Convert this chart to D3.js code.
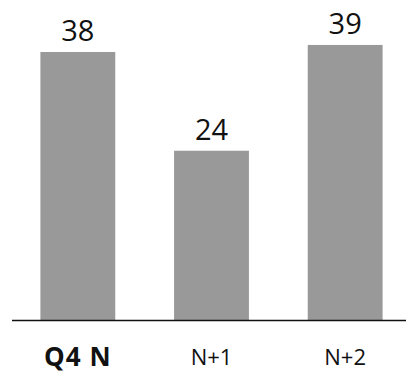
<!DOCTYPE html>
<html>
<head>
<meta charset="utf-8">
<script src="https://cdn.jsdelivr.net/npm/d3@7"></script>
<style>
  html, body { margin: 0; padding: 0; background: #fff; }
  svg { display: block; }
  text { font-family: "Open Sans", "Noto Sans", sans-serif; fill: #111; }
</style>
</head>
<body>
<svg id="chart" width="406" height="373"></svg>
<script>
const categories = ["Q4 N", "N+1", "N+2"];
const values = [38, 24, 39];
const boldCategory = "Q4 N";

const width = 406, height = 373;
const baseY = 320;

const svg = d3.select("#chart");

const x = d3.scaleBand()
  .domain(categories)
  .range([11, 412])
  .paddingInner(0.44)
  .paddingOuter(0.22);

const y = d3.scaleLinear()
  .domain([0, 38])
  .range([baseY, 52]);

svg.selectAll("rect.bar")
  .data(values)
  .join("rect")
  .attr("class", "bar")
  .attr("x", (d, i) => x(categories[i]))
  .attr("width", x.bandwidth())
  .attr("y", d => y(d))
  .attr("height", d => baseY - y(d))
  .attr("fill", "#999999");

svg.selectAll("text.value")
  .data(values)
  .join("text")
  .attr("class", "value")
  .attr("x", (d, i) => x(categories[i]) + x.bandwidth() / 2)
  .attr("y", d => y(d) - 11)
  .attr("text-anchor", "middle")
  .attr("font-size", 29)
  .text(d => d);

// baseline
svg.append("line")
  .attr("x1", 12).attr("x2", width)
  .attr("y1", baseY + 0.5).attr("y2", baseY + 0.5)
  .attr("stroke", "#111")
  .attr("stroke-width", 1.5);

svg.selectAll("text.cat")
  .data(categories)
  .join("text")
  .attr("class", "cat")
  .attr("x", d => x(d) + x.bandwidth() / 2)
  .attr("y", d => d === boldCategory ? 366 : 365)
  .attr("text-anchor", "middle")
  .attr("font-size", d => d === boldCategory ? 26 : 22)
  .attr("font-weight", d => d === boldCategory ? 700 : 400)
  .attr("letter-spacing", d => d === boldCategory ? 1 : 0)
  .text(d => d);
</script>
</body>
</html>
